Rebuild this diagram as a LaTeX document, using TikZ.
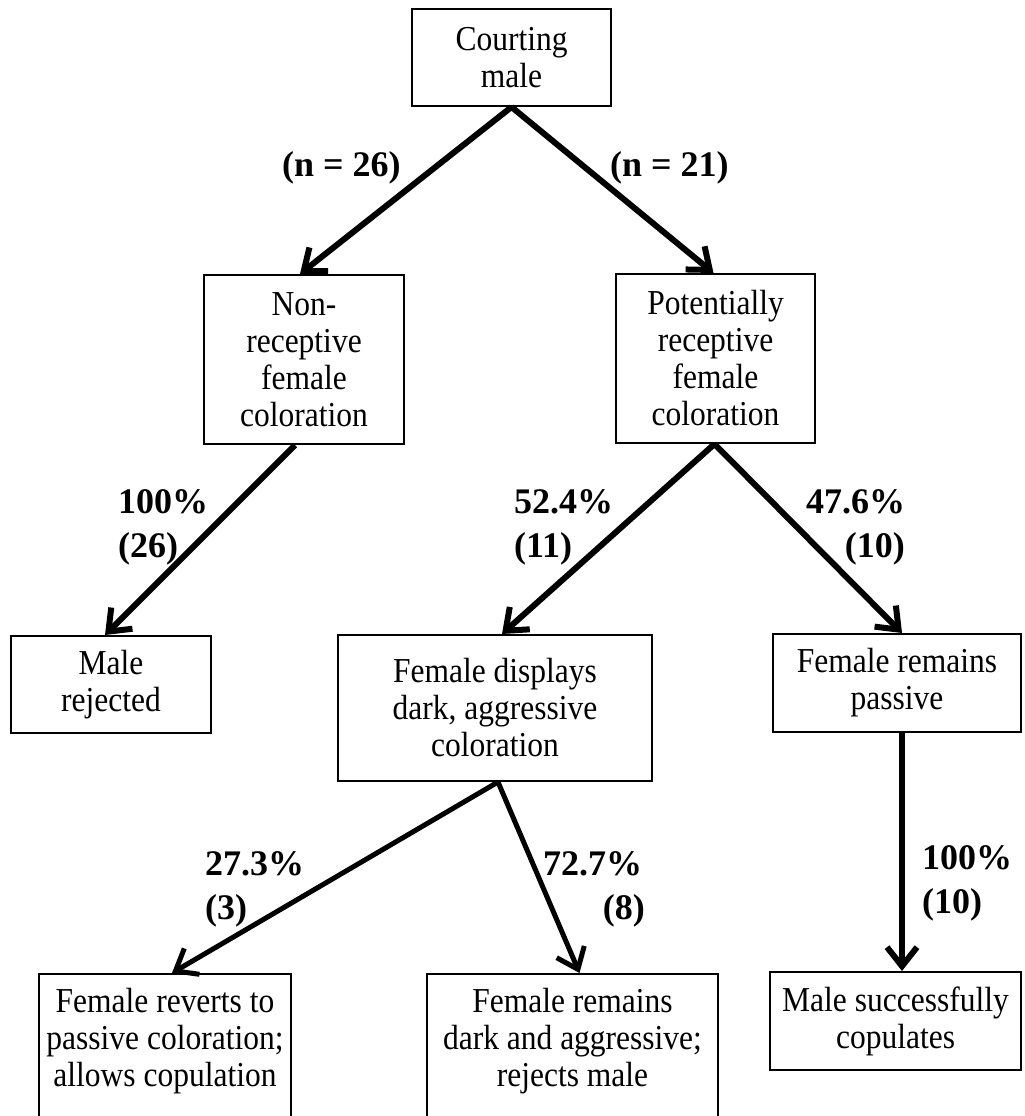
\documentclass[tikz,border=0pt]{standalone}
\usepackage{fontspec}
\setmainfont{Liberation Serif}
\newfontfamily\boxfont[FakeStretch=0.9]{Liberation Serif}
\usetikzlibrary{arrows.meta}
\begin{document}
\begin{tikzpicture}[x=1pt,y=-1pt,
  box/.style={draw, line width=2pt, rectangle, inner sep=0pt, align=center, font=\boxfont\fontsize{35}{37}\selectfont},
  boxtext/.style={inner sep=0pt, align=center, font=\boxfont\fontsize{35}{37}\selectfont},
  lab/.style={inner sep=0pt, font=\fontsize{36}{44}\selectfont\bfseries},
  arr/.style={line width=6pt, -{Straight Barb[length=19pt,width=30pt]}},
  thinarr/.style={arr, line width=5pt}
]
\useasboundingbox (0,0) rectangle (1025,1116);
\fill[white] (0,0) rectangle (1025,1116);
\clip (0,0) rectangle (1025,1116);

% boxes
\node[box, minimum width=199pt, minimum height=97pt] (court) at (511.5,57.5) {Courting\\male};
\node[box, minimum width=200pt, minimum height=169pt] (nonrec) at (304,359.5) {Non-\\receptive\\female\\coloration};
\node[box, minimum width=199pt, minimum height=169pt] (potrec) at (715.5,358.5) {Potentially\\receptive\\female\\coloration};
\node[box, minimum width=200pt, minimum height=97pt] (malerej) at (111,684.5) {Male\\rejected};
\node[box, minimum width=314pt, minimum height=146pt] (fdisp) at (495,708) {Female displays\\dark, aggressive\\coloration};
\node[box, minimum width=248pt, minimum height=98pt] (fpass) at (897,683) {Female remains\\passive};
\node[box, minimum width=251pt, minimum height=98pt] (msucc) at (895.5,1021) {Male successfully\\copulates};
\node[box, minimum width=252pt, minimum height=200pt, anchor=north] (frev) at (165,973) {};
\node[boxtext] (frevtext) at (165,1041) {Female reverts to\\passive coloration;\\allows copulation};
\node[box, minimum width=291pt, minimum height=200pt, anchor=north] (frem) at (572.5,973) {};
\node[boxtext] (fremtext) at (572.5,1041) {Female remains\\dark and aggressive;\\rejects male};

% connectors
\draw[arr] (court.south) -- ([xshift=-4pt]nonrec.north);
\draw[arr] (court.south) -- ([xshift=-2pt]potrec.north);
\draw[arr] ([xshift=-9pt]nonrec.south) -- ([xshift=-6pt]malerej.north);
\draw[arr] ([xshift=-1pt]potrec.south) -- ([xshift=7pt]fdisp.north);
\draw[arr] ([xshift=-1pt]potrec.south) -- ([xshift=5pt]fpass.north);
\draw[thinarr] ([xshift=3pt]fdisp.south) -- ([xshift=7pt]frev.north);
\draw[thinarr] ([xshift=3pt]fdisp.south) -- ([xshift=7pt]frem.north);
\draw[arr] ([xshift=5pt]fpass.south) -- ([xshift=6.5pt]msucc.north);

% labels
\node[lab, anchor=base west] (n26) at (282,176) {(n = 26)};
\node[lab, anchor=base west] (n21) at (610,176) {(n = 21)};
\node[lab, anchor=base west] (p100a) at (118,513) {100\%};
\node[lab, anchor=base west] (c26) at (118,557) {(26)};
\node[lab, anchor=base west] (p524) at (514,513) {52.4\%};
\node[lab, anchor=base west] (c11) at (514,557) {(11)};
\node[lab, anchor=base west] (p476) at (806,513) {47.6\%};
\node[lab, anchor=base east] (c10a) at (905,557) {(10)};
\node[lab, anchor=base west] (p273) at (205,875) {27.3\%};
\node[lab, anchor=base west] (c3) at (205,919) {(3)};
\node[lab, anchor=base west] (p727) at (543,875) {72.7\%};
\node[lab, anchor=base east] (c8) at (645,919) {(8)};
\node[lab, anchor=base west] (p100b) at (922,869) {100\%};
\node[lab, anchor=base west] (c10b) at (922,913) {(10)};
\end{tikzpicture}
\end{document}
